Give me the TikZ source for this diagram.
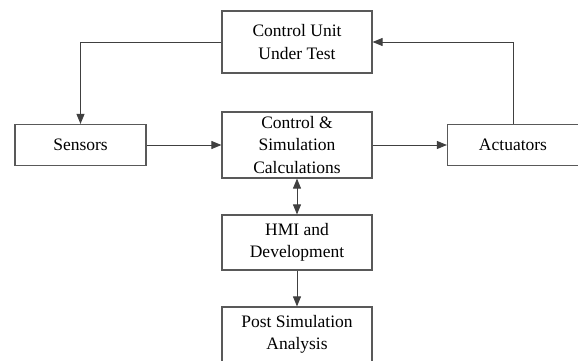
\documentclass[tikz,border=0pt]{standalone}
\usepackage{fontspec}
\setmainfont{Liberation Serif}
\usetikzlibrary{arrows.meta,positioning}

\begin{document}
\begin{tikzpicture}[x=1pt,y=1pt,>={Triangle[length=10pt,width=8pt]}]
  \useasboundingbox (-297,-319) rectangle (281,42);
  \tikzset{
    unitBlock/.style={rectangle,draw=black!65,line width=1.2pt,minimum width=150pt,
      inner sep=2pt,align=center,text=black,font=\rmfamily\fontsize{17.5}{22.5}\selectfont},
    ioBlock/.style={unitBlock,minimum width=131pt,minimum height=41pt},
    % edge styles
    signal/.style={->,draw=black!75,line width=0.9pt},
    exchange/.style={<->,draw=black!75,line width=0.9pt}
  }

  %%% Main chain
  \node[unitBlock, minimum height=62pt] (cu) {Control Unit\\Under Test};
  \node[unitBlock, minimum height=66pt] (csc) [below of=cu, node distance=103pt]
    {Control \&\\Simulation\\Calculations};
  \node[ioBlock] (sens) [left of=csc, node distance=216.5pt] {Sensors};
  \node[ioBlock] (act) [right of=csc, node distance=216pt] {Actuators};

  %%% Lower chain
  \node[unitBlock, minimum height=55pt] (hmi) [below of=csc, node distance=97.5pt]
    {HMI and\\Development};
  \node[unitBlock, minimum height=55pt] (post) [below of=hmi, node distance=92pt]
    {Post Simulation\\Analysis};

  % loop connectors
  \draw[signal] (cu.west) -| (sens.north);
  \draw[signal] (act.north) |- (cu.east);
  \draw[signal] (sens) -- (csc);
  \draw[signal] (csc) -- (act);

  % vertical connectors
  \draw[exchange] (csc) -- (hmi);
  \draw[signal] (hmi) -- (post);
\end{tikzpicture}
\end{document}
